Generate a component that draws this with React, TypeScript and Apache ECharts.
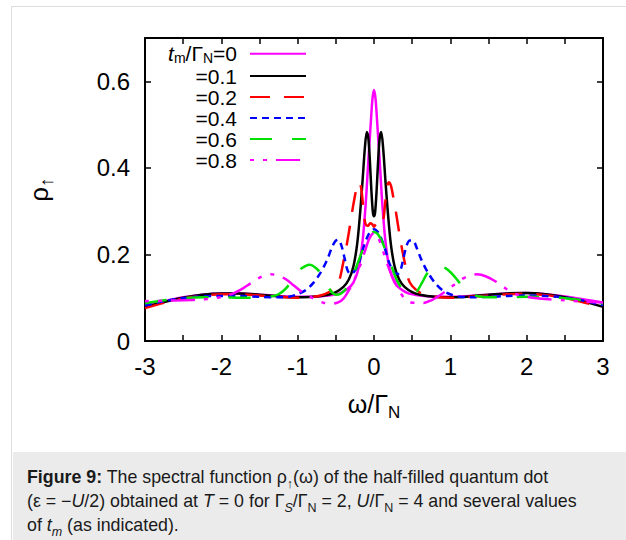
import React, { useEffect, useRef } from 'react';
import * as echarts from 'echarts';

const FONT = '"Liberation Sans", Arial, Helvetica, sans-serif';

// Legend labels (t_m / Γ_N values)
const legendLabels = ['tm/ΓN=0', '=0.1', '=0.2', '=0.4', '=0.6', '=0.8'];

// Axis ticks
const xTickValues = [-3, -2, -1, 0, 1, 2, 3];
const yTickValues = [0, 0.2, 0.4, 0.6];

// Spectral function curves, [ω/Γ_N, ρ↑]
const curveTm00: [number, number][] = [
  [-3, 0.081], [-2.75, 0.092], [-2.5, 0.101], [-2.25, 0.107], [-2, 0.11], [-1.75, 0.11],
  [-1.5, 0.107], [-1.25, 0.104], [-1, 0.102], [-0.8, 0.102], [-0.6, 0.105], [-0.45, 0.11],
  [-0.35, 0.12], [-0.27, 0.135], [-0.2, 0.17], [-0.15, 0.23], [-0.12, 0.29], [-0.1, 0.34],
  [-0.08, 0.4], [-0.06, 0.455], [-0.04, 0.51], [-0.02, 0.56], [0, 0.58], [0.02, 0.56],
  [0.04, 0.51], [0.06, 0.455], [0.08, 0.4], [0.1, 0.34], [0.12, 0.29], [0.15, 0.23],
  [0.2, 0.17], [0.27, 0.135], [0.35, 0.12], [0.45, 0.11], [0.6, 0.105], [0.8, 0.102],
  [1, 0.102], [1.25, 0.104], [1.5, 0.107], [1.75, 0.11], [2, 0.111], [2.25, 0.108],
  [2.5, 0.103], [2.75, 0.096], [3, 0.089],
];

const curveTm01: [number, number][] = [
  [-3, 0.078], [-2.75, 0.09], [-2.5, 0.1], [-2.25, 0.107], [-2, 0.11], [-1.75, 0.11],
  [-1.5, 0.107], [-1.25, 0.103], [-1, 0.101], [-0.8, 0.102], [-0.6, 0.107], [-0.5, 0.113],
  [-0.4, 0.125], [-0.33, 0.142], [-0.27, 0.172], [-0.22, 0.225], [-0.18, 0.3], [-0.15, 0.37],
  [-0.12, 0.445], [-0.095, 0.483], [-0.075, 0.47], [-0.055, 0.42], [-0.035, 0.35], [-0.015, 0.298],
  [0, 0.288], [0.015, 0.298], [0.035, 0.35], [0.055, 0.42], [0.075, 0.47], [0.095, 0.483],
  [0.12, 0.445], [0.15, 0.37], [0.18, 0.3], [0.22, 0.225], [0.27, 0.172], [0.33, 0.142],
  [0.4, 0.125], [0.5, 0.113], [0.6, 0.107], [0.8, 0.102], [1, 0.101], [1.25, 0.103],
  [1.5, 0.107], [1.75, 0.11], [2, 0.111], [2.25, 0.108], [2.5, 0.101], [2.75, 0.091], [3, 0.079],
];

const curveTm02: [number, number][] = [
  [-3, 0.076], [-2.75, 0.088], [-2.5, 0.098], [-2.25, 0.105], [-2, 0.108], [-1.75, 0.108],
  [-1.5, 0.105], [-1.25, 0.102], [-1, 0.1], [-0.85, 0.101], [-0.7, 0.105], [-0.6, 0.112],
  [-0.5, 0.127], [-0.45, 0.143], [-0.41, 0.175], [-0.37, 0.21], [-0.33, 0.25], [-0.29, 0.295],
  [-0.25, 0.335], [-0.22, 0.36], [-0.195, 0.367], [-0.17, 0.355], [-0.15, 0.325], [-0.13, 0.29],
  [-0.11, 0.27], [-0.08, 0.266], [-0.05, 0.272], [-0.025, 0.27], [0, 0.264], [0.025, 0.27],
  [0.05, 0.272], [0.08, 0.266], [0.11, 0.27], [0.13, 0.29], [0.15, 0.325], [0.17, 0.355],
  [0.195, 0.367], [0.22, 0.36], [0.25, 0.335], [0.29, 0.295], [0.33, 0.25], [0.37, 0.21],
  [0.41, 0.175], [0.45, 0.143], [0.5, 0.127], [0.6, 0.112], [0.7, 0.105], [0.85, 0.101],
  [1, 0.1], [1.25, 0.102], [1.5, 0.105], [1.75, 0.108], [2, 0.109], [2.25, 0.106],
  [2.5, 0.099], [2.75, 0.089], [3, 0.077],
];

const curveTm04: [number, number][] = [
  [-3, 0.082], [-2.75, 0.092], [-2.5, 0.099], [-2.25, 0.103], [-2, 0.104], [-1.75, 0.104],
  [-1.5, 0.102], [-1.25, 0.101], [-1.1, 0.103], [-1, 0.108], [-0.9, 0.117], [-0.8, 0.133],
  [-0.7, 0.158], [-0.62, 0.185], [-0.56, 0.212], [-0.51, 0.23], [-0.47, 0.234], [-0.43, 0.222],
  [-0.39, 0.195], [-0.35, 0.165], [-0.31, 0.155], [-0.26, 0.16], [-0.2, 0.18], [-0.14, 0.215],
  [-0.08, 0.243], [-0.04, 0.254], [0, 0.258], [0.04, 0.254], [0.08, 0.243], [0.14, 0.215],
  [0.2, 0.18], [0.26, 0.16], [0.31, 0.155], [0.35, 0.165], [0.39, 0.195], [0.43, 0.222],
  [0.47, 0.232], [0.51, 0.232], [0.56, 0.215], [0.62, 0.188], [0.7, 0.16], [0.8, 0.134],
  [0.9, 0.117], [1, 0.108], [1.1, 0.103], [1.25, 0.101], [1.5, 0.102], [1.75, 0.104],
  [2, 0.105], [2.25, 0.104], [2.5, 0.1], [2.75, 0.093], [3, 0.083],
];

const curveTm06: [number, number][] = [
  [-3, 0.087], [-2.75, 0.094], [-2.5, 0.099], [-2.25, 0.101], [-2, 0.101], [-1.75, 0.1],
  [-1.5, 0.1], [-1.35, 0.103], [-1.25, 0.108], [-1.15, 0.122], [-1.05, 0.148], [-0.97, 0.165],
  [-0.9, 0.173], [-0.84, 0.176], [-0.77, 0.17], [-0.7, 0.157], [-0.63, 0.135], [-0.56, 0.114],
  [-0.5, 0.107], [-0.44, 0.109], [-0.37, 0.12], [-0.3, 0.14], [-0.23, 0.172], [-0.16, 0.205],
  [-0.1, 0.232], [-0.05, 0.247], [0, 0.252], [0.05, 0.247], [0.1, 0.232], [0.16, 0.205],
  [0.23, 0.172], [0.3, 0.14], [0.37, 0.12], [0.44, 0.109], [0.5, 0.107], [0.56, 0.114],
  [0.63, 0.135], [0.7, 0.157], [0.77, 0.17], [0.84, 0.175], [0.9, 0.172], [0.97, 0.164],
  [1.05, 0.15], [1.15, 0.128], [1.25, 0.11], [1.35, 0.104], [1.5, 0.101], [1.75, 0.101],
  [2, 0.102], [2.25, 0.101], [2.5, 0.099], [2.75, 0.094], [3, 0.087],
];

const curveTm08: [number, number][] = [
  [-3, 0.092], [-2.75, 0.093], [-2.5, 0.094], [-2.25, 0.096], [-2.05, 0.1], [-1.9, 0.106],
  [-1.75, 0.118], [-1.6, 0.135], [-1.47, 0.149], [-1.35, 0.154], [-1.25, 0.151], [-1.15, 0.142],
  [-1.05, 0.128], [-0.95, 0.114], [-0.85, 0.104], [-0.75, 0.094], [-0.65, 0.088], [-0.55, 0.086],
  [-0.47, 0.089], [-0.4, 0.098], [-0.33, 0.117], [-0.25, 0.145], [-0.18, 0.175], [-0.12, 0.207],
  [-0.06, 0.237], [0, 0.25], [0.06, 0.237], [0.12, 0.207], [0.18, 0.175], [0.25, 0.145],
  [0.33, 0.117], [0.4, 0.098], [0.47, 0.09], [0.55, 0.088], [0.65, 0.088], [0.75, 0.094],
  [0.85, 0.104], [0.95, 0.116], [1.05, 0.13], [1.15, 0.143], [1.25, 0.151], [1.35, 0.154],
  [1.47, 0.149], [1.6, 0.137], [1.72, 0.122], [1.85, 0.109], [2, 0.102], [2.25, 0.097],
  [2.5, 0.094], [2.75, 0.091], [3, 0.089],
];

const curves = [curveTm00, curveTm01, curveTm02, curveTm04, curveTm06, curveTm08];
const lineColors = ['#ff00ff', '#000000', '#ff0000', '#0000ff', '#00e000', '#ff00ff'];
const lineDashes: any[] = ['solid', 'solid', [20, 14], [7, 5], [22, 20], [4, 9, 4, 9, 24, 9]];

export default function App() {
  const ref = useRef<HTMLDivElement>(null);

  useEffect(() => {
    if (!ref.current) return;
    const chart = echarts.init(ref.current, undefined, { renderer: 'svg' });

    const baseAxisLine = { show: true, onZero: false, lineStyle: { color: '#000', width: 2 } };
    const baseTick = { show: true, inside: true, length: 6, lineStyle: { color: '#000', width: 1.5 } };

    const isTick = (arr: number[], v: number) => arr.some((t) => Math.abs(t - v) < 1e-9);
    const LH = 20.3;
    const LH1 = 23.5;

    chart.setOption({
      animation: false,
      textStyle: { fontFamily: FONT },
      grid: { left: 145, right: 23, top: 38, bottom: 199, containLabel: false },
      legend: {
        data: legendLabels,
        orient: 'vertical',
        align: 'right',
        right: 319,
        top: 42,
        padding: 0,
        itemGap: 0,
        itemWidth: 56,
        itemHeight: 14,
        selectedMode: false,
        itemStyle: { opacity: 0 },
        textStyle: {
          fontSize: 21,
          color: '#000',
          fontFamily: FONT,
          lineHeight: LH,
          rich: {
            it: { fontSize: 21, fontStyle: 'italic', lineHeight: LH1, fontFamily: FONT, color: '#000' },
            sub: { fontSize: 14, padding: [8, 0, 0, 0], lineHeight: LH1, fontFamily: FONT, color: '#000' },
            n: { fontSize: 21, lineHeight: LH1, fontFamily: FONT, color: '#000' },
            e1: { fontSize: 21, lineHeight: LH1, padding: [0, 8, 0, 0], fontFamily: FONT, color: '#000' },
            e: { fontSize: 21, lineHeight: LH, padding: [0, 8, 0, 0], fontFamily: FONT, color: '#000' },
          },
        },
        formatter: (name: string) =>
          name === legendLabels[0] ? '{it|t}{sub|m}{n|/Γ}{sub|N}{e1|=0}' : `{e|${name}}`,
      },
      xAxis: [
        {
          type: 'value',
          position: 'bottom',
          min: -3,
          max: 3,
          interval: 0.5,
          axisLine: baseAxisLine,
          axisTick: baseTick,
          splitLine: { show: false },
          axisLabel: {
            fontSize: 24,
            color: '#000',
            fontFamily: FONT,
            margin: 13,
            formatter: (v: number) => (isTick(xTickValues, v) ? String(Math.round(v)) : ''),
          },
          name: '{n|ω/Γ}{s|N}',
          nameLocation: 'middle',
          nameGap: 48,
          nameTextStyle: {
            fontFamily: FONT,
            color: '#000',
            rich: {
              n: { fontSize: 25, lineHeight: 30, fontFamily: FONT, color: '#000' },
              s: { fontSize: 17, lineHeight: 30, padding: [16, 0, 0, 0], fontFamily: FONT, color: '#000' },
            },
          },
        },
        {
          type: 'value',
          position: 'top',
          min: -3,
          max: 3,
          interval: 0.5,
          axisLine: baseAxisLine,
          axisTick: baseTick,
          splitLine: { show: false },
          axisLabel: { show: false },
        },
      ],
      yAxis: [
        {
          type: 'value',
          position: 'left',
          min: 0,
          max: 0.7,
          interval: 0.2,
          axisLine: baseAxisLine,
          axisTick: baseTick,
          splitLine: { show: false },
          axisLabel: {
            fontSize: 24,
            color: '#000',
            fontFamily: FONT,
            margin: 15,
            showMaxLabel: false,
            formatter: (v: number) => (isTick(yTickValues, v) ? String(Math.round(v * 10) / 10) : ''),
          },
          name: '{r|ρ}{s|↑}',
          nameLocation: 'middle',
          nameRotate: 90,
          nameGap: 91,
          nameTextStyle: {
            fontFamily: FONT,
            color: '#000',
            rich: {
              r: { fontSize: 26, lineHeight: 30, fontFamily: FONT, color: '#000' },
              s: { fontSize: 19, lineHeight: 30, padding: [14, 0, 0, 0], fontFamily: FONT, color: '#000' },
            },
          },
        },
        {
          type: 'value',
          position: 'right',
          min: 0,
          max: 0.7,
          interval: 0.2,
          axisLine: baseAxisLine,
          axisTick: baseTick,
          splitLine: { show: false },
          axisLabel: { show: false },
        },
      ],
      series: curves.map((data, i) => ({
        name: legendLabels[i],
        type: 'line',
        xAxisIndex: 0,
        yAxisIndex: 0,
        data,
        symbol: 'none',
        showSymbol: false,
        smooth: 0.3,
        color: lineColors[i],
        itemStyle: { color: lineColors[i] },
        lineStyle: { color: lineColors[i], width: 2.5, type: lineDashes[i] },
        emphasis: { disabled: true },
        z: 2 + i,
      })),
    });

    return () => chart.dispose();
  }, []);

  const subStyle = { fontSize: 12.5, lineHeight: 0 } as const;

  return (
    <div style={{ position: 'absolute', left: 0, top: 0, width: 626, height: 540, overflow: 'hidden', background: '#fff' }}>
      <div
        style={{
          position: 'absolute',
          left: 11,
          top: 6,
          width: 640,
          height: 560,
          borderLeft: '1.5px solid #dedede',
          borderTop: '1.5px solid #dedede',
          background: '#fff',
        }}
      />
      <div ref={ref} style={{ position: 'absolute', left: 0, top: 0, width: 626, height: 540 }} />
      <div
        style={{
          position: 'absolute',
          left: 12.5,
          top: 452,
          width: 614,
          height: 88,
          background: '#ebebeb',
          boxSizing: 'border-box',
          paddingLeft: 14.5,
          paddingTop: 13,
          fontFamily: FONT,
          fontSize: 17.8,
          lineHeight: '24px',
          color: '#1a1a1a',
          whiteSpace: 'nowrap',
        }}
      >
        <b>Figure 9:</b> The spectral function ρ<sub style={subStyle}>↑</sub>(ω) of the half-filled quantum dot
        <br />
        (ε = −<i>U</i>/2) obtained at <i>T</i> = 0 for Γ<sub style={subStyle}><i>S</i></sub>/Γ
        <sub style={subStyle}>N</sub> = 2, <i>U</i>/Γ<sub style={subStyle}>N</sub> = 4 and several values
        <br />
        of <i>t<sub style={subStyle}>m</sub></i> (as indicated).
      </div>
    </div>
  );
}
